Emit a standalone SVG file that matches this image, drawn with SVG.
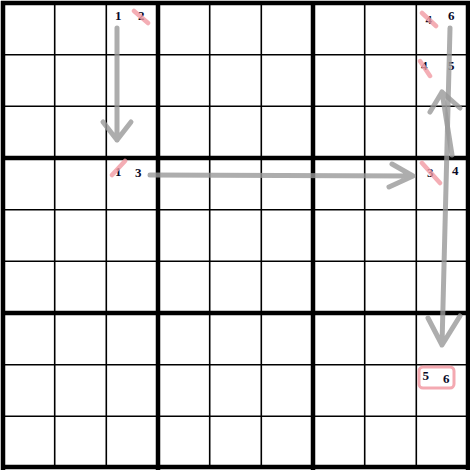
<svg xmlns="http://www.w3.org/2000/svg" width="470" height="471" viewBox="0 0 470 471">
<style>
.thin{stroke:#000;stroke-width:1.6}
.thick{stroke:#000;stroke-width:4.5}
.d{font-family:"Liberation Serif","Times New Roman",serif;font-size:13px;font-weight:bold;fill:#0a0a28}
.x{stroke:#f29aa3;stroke-width:4.5;stroke-linecap:round;opacity:0.8}
.a{stroke:#999;stroke-width:5;stroke-linecap:round;stroke-linejoin:round;fill:none;opacity:0.8}
</style>
<rect width="470" height="471" fill="#fff"/>
<g id="grid">
<path class="thin" d="M54.7 3V468M106.3 3V468M209.7 3V468M261.3 3V468M364.7 3V468M416.3 3V468M3 54.7H468M3 106.3H468M3 209.7H468M3 261.3H468M3 364.7H468M3 416.3H468"/>
<path class="thick" d="M3 1V470M158 1V470M313 1V470M468 1V470M1 3H470M1 158H470M1 313H470M1 467H470"/>
</g>
<g id="cell-r1c3">
<text class="d" x="115" y="20">1</text>
<text class="d" x="138" y="20">2</text>
<line class="x" x1="134" y1="11" x2="148" y2="23"/>
</g>
<g id="cell-r1c9">
<text class="d" x="425.5" y="24">4</text>
<text class="d" x="448" y="20">6</text>
<line class="x" x1="422" y1="13" x2="436" y2="26"/>
</g>
<g id="cell-r2c9">
<text class="d" x="421" y="70">4</text>
<text class="d" x="448" y="70">5</text>
<line class="x" x1="420" y1="61" x2="430" y2="76"/>
</g>
<g id="cell-r4c3">
<text class="d" x="115" y="176">1</text>
<text class="d" x="135" y="177">3</text>
<line class="x" x1="112" y1="175" x2="125" y2="161"/>
</g>
<g id="cell-r4c9">
<text class="d" x="427" y="177">3</text>
<text class="d" x="452" y="175">4</text>
<line class="x" x1="422" y1="163" x2="440" y2="183"/>
</g>
<g id="cell-r8c9">
<rect x="419" y="367" width="35" height="21" rx="4" fill="none" stroke="#f29aa3" stroke-width="3" opacity="0.85"/>
<text class="d" x="422.5" y="380">5</text>
<text class="d" x="443" y="383">6</text>
</g>
<g id="connectors">
<path class="a" d="M117 28L117 140M103 122L117 140L131 122"/>
<path class="a" d="M150 175L413 176M392 164L413 176L389 187"/>
<path class="a" d="M450 28L442 345M428 318L442 345L460 316"/>
<path class="a" d="M452 155L442 92M430 112L442 92L460 108"/>
</g>
</svg>
